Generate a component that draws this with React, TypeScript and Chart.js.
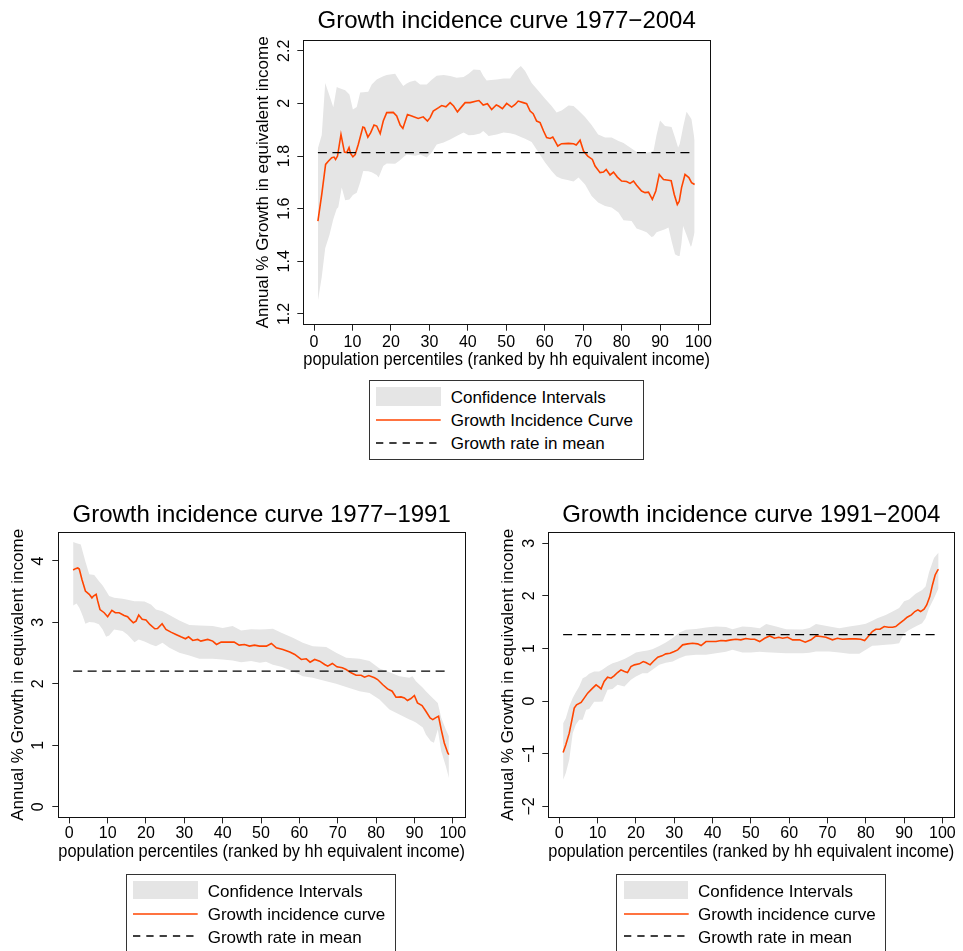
import React, { useEffect, useRef } from 'react';
import { Chart, registerables } from 'chart.js';

Chart.register(...registerables);

const FONT = "'Liberation Sans', Arial, Helvetica, sans-serif";

// ---------------- DATA ----------------
const xTicks = [0, 10, 20, 30, 40, 50, 60, 70, 80, 90, 100];
const topYTicks = [1.2, 1.4, 1.6, 1.8, 2, 2.2];
const blYTicks = [0, 1, 2, 3, 4];
const brYTicks = [-2, -1, 0, 1, 2, 3];

const titles = {
  top: 'Growth incidence curve 1977\u22122004',
  bl: 'Growth incidence curve 1977\u22121991',
  br: 'Growth incidence curve 1991\u22122004',
};
const xTitle = 'population percentiles (ranked by hh equivalent income)';
const yTitle = 'Annual % Growth in equivalent income';
const legendTop = ['Confidence Intervals', 'Growth Incidence Curve', 'Growth rate in mean'];
const legendBottom = ['Confidence Intervals', 'Growth incidence curve', 'Growth rate in mean'];

// growth rate in mean
const meanTop = 1.813;
const meanBL = 2.207;
const meanBR = 1.266;
const meanSpan = [1, 99];

// growth incidence curves: [percentile, growth]
const topCurve: [number, number][] = [
  [1, 1.553], [2, 1.654], [3, 1.768], [3.7, 1.78], [4.6, 1.794], [5.2, 1.796], [5.6, 1.787], [6.1, 1.8],
  [7, 1.882], [7.9, 1.815], [8.5, 1.813], [9.1, 1.832], [9.5, 1.81], [10.1, 1.797], [10.7, 1.806],
  [11.5, 1.844], [12.7, 1.91], [13.1, 1.908], [14, 1.872], [14.7, 1.888], [15.6, 1.918], [16.3, 1.914],
  [17.2, 1.885], [18, 1.933], [18.9, 1.965], [20.6, 1.966], [21.5, 1.952], [22.4, 1.918], [23.1, 1.905],
  [24.3, 1.958], [25.4, 1.952], [27.1, 1.943], [28.4, 1.949], [29.5, 1.933], [30.2, 1.946], [31, 1.971],
  [32.4, 1.984], [33.2, 1.992], [34.3, 1.987], [35.4, 2.003], [36.3, 1.99], [37.3, 1.968], [38.2, 1.984],
  [39.3, 2.003], [40.6, 2.003], [42.3, 2.009], [42.9, 2.011], [44, 1.994], [45.1, 1.999], [46.2, 1.977],
  [47.4, 1.994], [48, 1.99], [49, 1.98], [50.1, 2.0], [51.4, 1.986], [52.3, 1.996], [53.1, 2.009],
  [54.4, 2.003], [55.3, 1.999], [56.2, 1.971], [57, 1.961], [57.9, 1.933], [58.8, 1.927], [59.7, 1.895],
  [60.5, 1.87], [61.4, 1.867], [62.1, 1.872], [62.7, 1.857], [63.4, 1.838], [64.4, 1.847], [66.2, 1.848],
  [67.5, 1.847], [68.2, 1.842], [69.2, 1.86], [70.1, 1.819], [71.2, 1.8], [72.4, 1.787], [73.1, 1.762],
  [74.4, 1.737], [75.3, 1.739], [76, 1.749], [77, 1.728], [77.9, 1.739], [78.9, 1.72], [80, 1.705],
  [81.3, 1.703], [82.2, 1.696], [83.1, 1.705], [83.9, 1.689], [85.2, 1.667], [86.1, 1.661], [87, 1.663],
  [88, 1.635], [88.9, 1.667], [89.8, 1.73], [90.9, 1.711], [92.2, 1.708], [92.9, 1.706], [93.7, 1.654],
  [94.5, 1.616], [95, 1.628], [95.6, 1.68], [96.5, 1.73], [97.5, 1.718], [98.2, 1.699], [99, 1.692],
];

// confidence intervals: [percentile, lower, upper]
const topBand: [number, number, number][] = [
  [1, 1.25, 1.83], [2, 1.34, 1.88], [2.9, 1.45, 2.078], [4, 1.5, 2.03], [5, 1.56, 1.985], [5.9, 1.6, 2.062],
  [6.3, 1.605, 2.06], [7.2, 1.68, 2.055], [8.1, 1.632, 2.05], [9.2, 1.635, 2.034], [10.1, 1.652, 1.977],
  [11.1, 1.66, 1.986], [12, 1.7, 2.041], [12.8, 1.743, 2.042], [14.1, 1.742, 2.044], [15, 1.738, 2.072],
  [16.3, 1.728, 2.091], [16.8, 1.718, 2.095], [18, 1.762, 2.103], [18.9, 1.772, 2.108], [21.1, 1.771, 2.113],
  [22.2, 1.782, 2.087], [23.2, 1.795, 2.066], [24.1, 1.806, 2.076], [25, 1.804, 2.082], [26.3, 1.801, 2.087],
  [27.6, 1.806, 2.072], [29.3, 1.794, 2.072], [30.6, 1.813, 2.09], [31.9, 1.844, 2.105], [33.7, 1.851, 2.108],
  [35.4, 1.863, 2.104], [37.1, 1.876, 2.098], [38.9, 1.889, 2.1], [40.2, 1.879, 2.113], [41.5, 1.88, 2.129],
  [43.2, 1.886, 2.127], [44, 1.895, 2.105], [44.9, 1.884, 2.087], [45.4, 1.876, 2.088], [47.5, 1.882, 2.091],
  [49.3, 1.889, 2.095], [51, 1.887, 2.095], [52.3, 1.882, 2.123], [53.8, 1.872, 2.142], [54.9, 1.866, 2.123],
  [56.6, 1.853, 2.078], [58.4, 1.813, 2.047], [60.1, 1.775, 2.018], [61.8, 1.743, 1.99], [63.1, 1.722, 1.965],
  [64.4, 1.714, 1.973], [66.2, 1.708, 1.992], [67.5, 1.703, 1.99], [68.8, 1.718, 1.973], [70.5, 1.692, 1.948],
  [72.2, 1.648, 1.918], [73.9, 1.623, 1.882], [75.7, 1.61, 1.87], [77.4, 1.604, 1.87], [79.2, 1.585, 1.857],
  [80.5, 1.556, 1.85], [82.6, 1.553, 1.829], [83.9, 1.525, 1.815], [85.2, 1.518, 1.813], [86.5, 1.51, 1.813],
  [87.8, 1.492, 1.816], [88.3, 1.495, 1.819], [89.1, 1.51, 1.88], [90, 1.515, 1.935], [91.3, 1.522, 1.914],
  [92.2, 1.528, 1.912], [93, 1.477, 1.91], [93.9, 1.427, 1.87], [94.7, 1.42, 1.832], [95.1, 1.42, 1.845],
  [95.6, 1.47, 1.88], [96, 1.534, 1.91], [96.9, 1.5, 1.968], [98, 1.455, 1.945], [98.2, 1.46, 1.939],
  [99, 1.51, 1.86],
];

const blCurve: [number, number][] = [
  [1, 3.853], [1.6, 3.875], [2.2, 3.886], [2.6, 3.87], [3.3, 3.7], [4.2, 3.51], [5.2, 3.457], [5.9, 3.4],
  [6.3, 3.43], [7, 3.457], [7.4, 3.35], [8, 3.21], [9.1, 3.158], [10, 3.092], [11.1, 3.196], [12, 3.158],
  [13, 3.158], [14.3, 3.114], [15.2, 3.092], [15.8, 3.05], [16.7, 2.995], [17.4, 3.02], [18.1, 3.12],
  [19, 3.05], [20, 3.038], [21, 2.967], [22.3, 2.897], [23, 2.902], [24.2, 2.978], [25.2, 2.886],
  [26.5, 2.842], [27.8, 2.804], [29.1, 2.766], [30.3, 2.734], [31.1, 2.766], [32.2, 2.707], [33.5, 2.723],
  [34.3, 2.696], [36.1, 2.723], [37.4, 2.696], [38.4, 2.641], [39.6, 2.679], [41.7, 2.679], [43, 2.679],
  [44.3, 2.63], [45.7, 2.641], [47, 2.614], [48.3, 2.63], [49.6, 2.614], [51.4, 2.614], [52.7, 2.658],
  [54, 2.587], [55.7, 2.56], [57.5, 2.517], [58.8, 2.478], [60.5, 2.397], [61.8, 2.408], [62.8, 2.353],
  [64, 2.397], [65.3, 2.37], [66.6, 2.315], [67.4, 2.288], [68.6, 2.332], [69.8, 2.277], [71.2, 2.261],
  [72.2, 2.234], [73.5, 2.18], [74.8, 2.141], [76.1, 2.141], [77, 2.109], [78.1, 2.136], [79.6, 2.098],
  [80.4, 2.07], [81.7, 1.989], [83, 1.918], [84.2, 1.88], [85.2, 1.783], [86.5, 1.788], [87.4, 1.772],
  [88.2, 1.728], [89.1, 1.761], [90, 1.81], [90.8, 1.69], [92, 1.647], [93, 1.554], [94.1, 1.446],
  [94.8, 1.418], [95.5, 1.446], [96.3, 1.473], [97, 1.255], [97.8, 1.038], [98.7, 0.875], [99, 0.848],
];

const blBand: [number, number, number][] = [
  [1, 3.277, 4.31], [1.9, 3.31, 4.288], [2.6, 3.239, 4.275], [3, 3.18, 4.27], [3.5, 3.103, 4.15],
  [4.2, 2.978, 3.99], [5.2, 3.005, 3.783], [6.5, 3.0, 3.77], [7.7, 2.97, 3.674], [8.7, 2.886, 3.6],
  [9.6, 2.766, 3.51], [10.4, 2.788, 3.43], [11.7, 2.886, 3.402], [13.9, 2.86, 3.386], [15.2, 2.8, 3.37],
  [17, 2.679, 3.345], [18.1, 2.72, 3.345], [19.6, 2.69, 3.34], [21.3, 2.641, 3.293], [22.6, 2.614, 3.212],
  [24.3, 2.668, 3.18], [26.1, 2.587, 3.12], [28.7, 2.505, 3.03], [31.3, 2.462, 2.96], [33.9, 2.408, 2.951],
  [37.4, 2.408, 2.94], [40, 2.397, 2.91], [42.6, 2.38, 2.94], [44.8, 2.353, 2.87], [47.4, 2.37, 2.89],
  [49.7, 2.342, 2.886], [51.3, 2.36, 2.89], [53.1, 2.31, 2.897], [55.3, 2.277, 2.83], [58.3, 2.207, 2.75],
  [60.9, 2.125, 2.668], [63.5, 2.098, 2.614], [67, 2.043, 2.6], [69.6, 2.0, 2.505], [72.2, 1.95, 2.424],
  [75.7, 1.88, 2.408], [78.3, 1.853, 2.37], [80.9, 1.745, 2.25], [83.5, 1.582, 2.19], [86.1, 1.5, 2.125],
  [88.7, 1.418, 2.098], [89.5, 1.4, 2.125], [90.4, 1.37, 2.043], [92.2, 1.29, 1.935], [93, 1.174, 1.88],
  [94.3, 1.065, 1.8], [95.1, 1.04, 1.75], [96.1, 1.255, 1.69], [97, 0.902, 1.45], [98.2, 0.658, 1.255],
  [99, 0.467, 1.147],
];

const brCurve: [number, number][] = [
  [1, -0.975], [1.7, -0.829], [2.6, -0.608], [3.3, -0.354], [3.9, -0.133], [4.5, -0.07], [5.7, -0.025],
  [6.5, 0.057], [7.4, 0.152], [8.7, 0.247], [9.6, 0.31], [10.4, 0.266], [10.9, 0.234], [11.7, 0.373],
  [12.6, 0.456], [13.5, 0.437], [14.3, 0.481], [15.2, 0.544], [16.1, 0.595], [17, 0.563], [17.8, 0.544],
  [18.7, 0.658], [19.6, 0.69], [20.9, 0.709], [21.9, 0.753], [22.6, 0.734], [23.7, 0.69], [24.5, 0.753],
  [25.7, 0.835], [26.8, 0.861], [27.8, 0.899], [28.9, 0.911], [30, 0.943], [30.9, 0.975], [32.2, 1.07],
  [33.5, 1.089], [34.8, 1.101], [36.1, 1.089], [37, 1.057], [38.3, 1.133], [39.6, 1.133], [40.9, 1.133],
  [42.2, 1.152], [43.5, 1.146], [44.8, 1.165], [46.1, 1.177], [47.4, 1.165], [48.7, 1.19], [50, 1.177],
  [51, 1.177], [52.3, 1.133], [53.6, 1.196], [54.9, 1.24], [56.2, 1.196], [57.3, 1.215], [58.3, 1.196],
  [59.6, 1.215], [60.9, 1.165], [62.7, 1.165], [64.2, 1.12], [65.7, 1.165], [67, 1.24], [68.3, 1.228],
  [69.6, 1.215], [71.3, 1.165], [72.6, 1.196], [73.9, 1.177], [75.7, 1.184], [77.4, 1.184], [78.7, 1.177],
  [79.7, 1.152], [80.4, 1.209], [81.7, 1.323], [82.6, 1.367], [83.7, 1.367], [84.8, 1.418], [85.9, 1.405],
  [87, 1.405], [87.8, 1.418], [88.9, 1.481], [90, 1.544], [90.8, 1.595], [91.9, 1.639], [92.8, 1.703],
  [93.6, 1.734], [94.3, 1.703], [95.2, 1.747], [95.9, 1.829], [96.7, 1.987], [97.4, 2.209], [98.1, 2.399],
  [98.8, 2.494], [99, 2.506],
];

const brBand: [number, number, number][] = [
  [1, -1.494, -0.418], [1.7, -1.367, -0.323], [2.6, -1.114, -0.101], [3.5, -0.608, 0.06], [4.3, -0.449, 0.17],
  [5.2, -0.354, 0.278], [6.1, -0.354, 0.437], [7, -0.165, 0.468], [7.8, -0.15, 0.52], [9.1, -0.013, 0.563],
  [10.4, -0.01, 0.563], [11.3, -0.006, 0.6], [12.6, 0.215, 0.67], [13.9, 0.23, 0.722], [15.2, 0.31, 0.75],
  [17, 0.278, 0.8], [18.7, 0.405, 0.87], [20, 0.468, 0.924], [21.7, 0.532, 0.95], [23, 0.532, 0.965],
  [24.3, 0.595, 0.985], [26.1, 0.69, 1.05], [27.8, 0.73, 1.114], [29.6, 0.753, 1.2], [31.3, 0.816, 1.3],
  [33, 0.861, 1.355], [35.7, 0.88, 1.37], [38.3, 0.88, 1.4], [40.9, 0.911, 1.418], [43.5, 0.94, 1.41],
  [45.2, 0.975, 1.367], [47.8, 0.924, 1.418], [50, 0.924, 1.41], [52.3, 0.94, 1.386], [54, 0.93, 1.468],
  [56.6, 0.92, 1.42], [59.2, 0.911, 1.367], [63.5, 0.911, 1.36], [65.3, 0.92, 1.39], [67, 0.943, 1.468],
  [70.5, 0.943, 1.418], [73.1, 0.924, 1.386], [75.7, 0.899, 1.418], [78.3, 0.899, 1.449], [80, 0.975, 1.47],
  [81.7, 1.051, 1.53], [83, 1.06, 1.576], [85.2, 1.07, 1.639], [87, 1.08, 1.703], [88.7, 1.101, 1.77],
  [90, 1.291, 1.9], [91.3, 1.354, 1.93], [93, 1.418, 2.04], [94.7, 1.481, 2.114], [95.6, 1.576, 2.177],
  [96.5, 1.766, 2.45], [97.8, 1.956, 2.72], [99, 2.146, 2.823],
];

// ---------------- STYLE / LAYOUT ----------------
const ORANGE = '#FF4500';
const BAND = '#E5E5E5';

type Spec = {
  title: string;
  curve: [number, number][];
  band: [number, number, number][];
  mean: number;
  yTicks: number[];
  xRange: [number, number];
  yRange: [number, number];
  left: number;
  top: number;
  w: number;
  h: number;
  padL: number;
  padR: number;
  padB: number;
  titlePadT: number;
  titlePadB: number;
  yTickPad: number;
  xTickPad: number;
};

const specs: Spec[] = [
  {
    title: titles.top, curve: topCurve, band: topBand, mean: meanTop, yTicks: topYTicks,
    xRange: [-2.8, 103.0], yRange: [1.159, 2.241],
    left: 230, top: 0, w: 500, h: 380, padL: 23.3, padR: 20, padB: 9.8,
    titlePadT: 6.6, titlePadB: 4.6, yTickPad: 1.9, xTickPad: 2,
  },
  {
    title: titles.bl, curve: blCurve, band: blBand, mean: meanBL, yTicks: blYTicks,
    xRange: [-2.87, 103.2], yRange: [-0.174, 4.467],
    left: 0, top: 490, w: 490, h: 390, padL: 8.3, padR: 25, padB: 17.1,
    titlePadT: 10.5, titlePadB: 3, yTickPad: 9.5, xTickPad: 1,
  },
  {
    title: titles.br, curve: brCurve, band: brBand, mean: meanBR, yTicks: brYTicks,
    xRange: [-2.87, 103.1], yRange: [-2.209, 3.209],
    left: 490, top: 490, w: 473, h: 390, padL: 8.3, padR: 8.7, padB: 17.1,
    titlePadT: 10.5, titlePadB: 3, yTickPad: 3.4, xTickPad: 1,
  },
];

const alignPx = (p: number) => Math.round(p - 0.5) + 0.5;

const boxPlugin = {
  id: 'plotBox',
  afterDatasetsDraw(chart: any) {
    const { ctx, chartArea: a } = chart;
    ctx.save();
    ctx.strokeStyle = '#111';
    ctx.lineWidth = 1;
    const l = alignPx(a.left);
    const t = alignPx(a.top);
    const r = alignPx(a.right);
    const b = alignPx(a.bottom);
    ctx.strokeRect(l, t, r - l, b - t);
    ctx.restore();
  },
};

const fmt = (v: number) => String(v).replace('-', '\u2212');

function makeConfig(s: Spec): any {
  const tickFont = { family: FONT, size: 16, weight: 'normal' as const };
  const yTitleFont = { family: FONT, size: 17, weight: 'normal' as const };
  const xTitleFont = { family: FONT, size: 17.5, weight: 'normal' as const };
  return {
    type: 'line',
    data: {
      datasets: [
        {
          label: 'lower',
          data: s.band.map((d) => ({ x: d[0], y: d[1] })),
          borderWidth: 0,
          borderColor: 'rgba(0,0,0,0)',
          pointRadius: 0,
          fill: false,
          tension: 0,
          order: 4,
        },
        {
          label: 'Confidence Intervals',
          data: s.band.map((d) => ({ x: d[0], y: d[2] })),
          borderWidth: 0,
          borderColor: 'rgba(0,0,0,0)',
          backgroundColor: BAND,
          pointRadius: 0,
          fill: '-1',
          tension: 0,
          order: 3,
        },
        {
          label: 'Growth incidence curve',
          data: s.curve.map((d) => ({ x: d[0], y: d[1] })),
          borderColor: ORANGE,
          borderWidth: 1.6,
          pointRadius: 0,
          fill: false,
          tension: 0,
          order: 1,
        },
        {
          label: 'Growth rate in mean',
          data: meanSpan.map((x) => ({ x, y: s.mean })),
          borderColor: '#000',
          borderWidth: 1.3,
          borderDash: [9, 5.5],
          pointRadius: 0,
          fill: false,
          tension: 0,
          order: 0,
        },
      ],
    },
    options: {
      animation: false,
      responsive: false,
      maintainAspectRatio: false,
      devicePixelRatio: 1,
      events: [],
      layout: { padding: { left: s.padL, right: s.padR, top: 0, bottom: s.padB } },
      plugins: {
        legend: { display: false },
        tooltip: { enabled: false },
        title: {
          display: true,
          text: s.title,
          fullSize: false,
          color: '#000',
          font: { family: FONT, size: 24, weight: 'normal' },
          padding: { top: s.titlePadT, bottom: s.titlePadB },
        },
      },
      scales: {
        x: {
          type: 'linear',
          min: s.xRange[0],
          max: s.xRange[1],
          afterBuildTicks: (sc: any) => {
            sc.ticks = xTicks.map((v) => ({ value: v }));
          },
          afterFit: (sc: any) => {
            sc.height = 45.5;
          },
          grid: { drawOnChartArea: false, drawTicks: true, tickLength: 6, color: '#000', tickColor: '#222', lineWidth: 1 },
          border: { display: false },
          ticks: {
            autoSkip: false,
            maxRotation: 0,
            minRotation: 0,
            padding: s.xTickPad,
            color: '#000',
            font: tickFont,
            callback: (v: number) => fmt(v),
          },
          title: { display: true, text: xTitle, color: '#000', font: xTitleFont, padding: 0 },
        },
        y: {
          type: 'linear',
          min: s.yRange[0],
          max: s.yRange[1],
          afterBuildTicks: (sc: any) => {
            sc.ticks = s.yTicks.map((v) => ({ value: v }));
          },
          afterFit: (sc: any) => {
            sc.width = 50;
          },
          grid: { drawOnChartArea: false, drawTicks: true, tickLength: 6, color: '#000', tickColor: '#222', lineWidth: 1 },
          border: { display: false },
          ticks: {
            autoSkip: false,
            minRotation: 90,
            maxRotation: 90,
            crossAlign: 'center',
            padding: s.yTickPad,
            color: '#000',
            font: tickFont,
            callback: (v: number) => fmt(v),
          },
          title: { display: true, text: yTitle, color: '#000', font: yTitleFont, padding: 0 },
        },
      },
    },
    plugins: [boxPlugin],
  };
}

function GicChart({ spec }: { spec: Spec }) {
  const ref = useRef<HTMLCanvasElement | null>(null);
  useEffect(() => {
    if (!ref.current) return;
    const chart = new Chart(ref.current, makeConfig(spec));
    return () => chart.destroy();
  }, [spec]);
  return (
    <canvas
      ref={ref}
      width={spec.w}
      height={spec.h}
      style={{ position: 'absolute', left: spec.left, top: spec.top, width: spec.w, height: spec.h }}
    />
  );
}

type LegendPos = { left: number; top: number; width: number; labels: string[] };

const legends: LegendPos[] = [
  { left: 369, top: 380, width: 275, labels: legendTop },
  { left: 126, top: 873.5, width: 270, labels: legendBottom },
  { left: 616.3, top: 873.5, width: 270, labels: legendBottom },
];

function Legend({ pos }: { pos: LegendPos }) {
  const sampleL = 7.3;
  const sampleW = 64.7;
  const textL = 81.7;
  const baselines = [24.3, 47.3, 70];
  const textStyle = (b: number): React.CSSProperties => ({
    position: 'absolute',
    left: textL,
    top: b - 15.9,
    height: 20,
    lineHeight: '20px',
    fontFamily: FONT,
    fontSize: 17,
    color: '#000',
    whiteSpace: 'nowrap',
  });
  return (
    <div style={{ position: 'absolute', left: pos.left, top: pos.top, width: pos.width, height: 80 }}>
      <div
        style={{
          position: 'absolute', left: 0, top: 0, width: pos.width, height: 80,
          border: '1px solid #333', boxSizing: 'border-box',
        }}
      />
      <div style={{ position: 'absolute', left: sampleL, top: 7.3, width: sampleW, height: 18.4, background: BAND }} />
      <svg style={{ position: 'absolute', left: sampleL, top: 37, overflow: 'visible' }} width={sampleW} height={6}>
        <line x1={0} y1={3} x2={sampleW} y2={3} stroke={ORANGE} strokeWidth={1.6} />
      </svg>
      <svg style={{ position: 'absolute', left: sampleL, top: 59.7, overflow: 'visible' }} width={sampleW} height={6}>
        <line x1={0} y1={3} x2={sampleW} y2={3} stroke="#000" strokeWidth={1.3} strokeDasharray="7.3 6" />
      </svg>
      {pos.labels.map((t, i) => (
        <div key={t} style={textStyle(baselines[i])}>{t}</div>
      ))}
    </div>
  );
}

export default function App() {
  return (
    <div style={{ position: 'absolute', left: 0, top: 0, width: 963, height: 951, overflow: 'hidden', background: '#fff' }}>
      {specs.map((s, i) => (
        <GicChart key={i} spec={s} />
      ))}
      {legends.map((l, i) => (
        <Legend key={i} pos={l} />
      ))}
    </div>
  );
}
